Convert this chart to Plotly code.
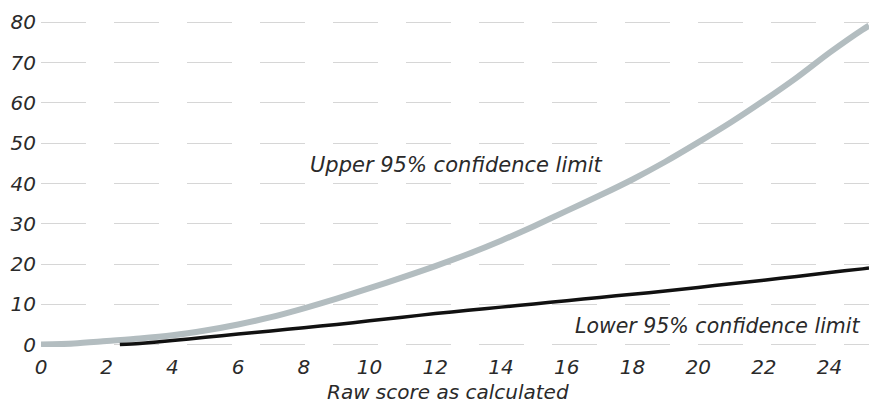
import plotly.graph_objects as go

# Raw score (x) and the two 95% confidence limits read along it
raw_score = [0, 1, 2, 3, 4, 5, 6, 7, 8, 9, 10, 11, 12, 13, 14, 15, 16, 17, 18,
             19, 20, 21, 22, 23, 24, 25, 25.2]
upper_95 = [0, 0.3, 0.9, 1.5, 2.3, 3.5, 5.0, 6.8, 9.0, 11.4, 14.0, 16.7, 19.5,
            22.5, 25.8, 29.4, 33.2, 37.0, 41.0, 45.4, 50.2, 55.2, 60.6, 66.3,
            72.5, 78.2, 79.2]

lower_x = [2.4, 3, 4, 5, 6, 7, 8, 9, 10, 11, 12, 13, 14, 15, 16, 17, 18, 19,
           20, 21, 22, 23, 24, 25, 25.2]
lower_95 = [0, 0.3, 1.0, 1.8, 2.6, 3.4, 4.2, 5.0, 5.9, 6.8, 7.7, 8.5, 9.3,
            10.1, 10.9, 11.7, 12.5, 13.3, 14.2, 15.1, 16.0, 16.9, 17.9, 18.8,
            19.0]

x_ticks = list(range(0, 25, 2))
y_ticks = list(range(0, 81, 10))

FONT = "DejaVu Sans"
TEXT = "#2a2a2a"

fig = go.Figure()
fig.add_trace(go.Scatter(x=raw_score, y=upper_95, mode="lines",
                         line=dict(color="#b3bdc0", width=6, shape="spline",
                                   smoothing=0.8),
                         hoverinfo="skip", showlegend=False))
fig.add_trace(go.Scatter(x=lower_x, y=lower_95, mode="lines",
                         line=dict(color="#111111", width=3.5, shape="spline",
                                   smoothing=0.8),
                         hoverinfo="skip", showlegend=False))

fig.add_annotation(x=12.65, y=44.5, text="Upper 95% confidence limit",
                   showarrow=False, xanchor="center", yanchor="middle",
                   font=dict(family=FONT, size=21, color=TEXT, style="italic"))
fig.add_annotation(x=25.0, y=4.6, text="Lower 95% confidence limit",
                   showarrow=False, xanchor="right", yanchor="middle",
                   font=dict(family=FONT, size=20.5, color=TEXT, style="italic"))
# x-axis title, placed below the tick labels
fig.add_annotation(xref="paper", yref="paper", x=0.4915, y=-0.137,
                   text="Raw score as calculated", showarrow=False,
                   xanchor="center", yanchor="middle",
                   font=dict(family=FONT, size=20, color=TEXT, style="italic"))

fig.update_layout(
    width=870, height=405,
    margin=dict(l=41, r=1, t=20, b=58),
    paper_bgcolor="white", plot_bgcolor="white",
    font=dict(family=FONT, size=20, color=TEXT, style="italic"),
    xaxis=dict(range=[0, 25.2], tickvals=x_ticks,
               ticktext=[str(v) for v in x_ticks],
               showgrid=False, zeroline=False, showline=False, ticks="",
               ticklabelstandoff=6,
               tickfont=dict(family=FONT, size=20, color=TEXT, style="italic")),
    yaxis=dict(range=[-0.6, 80.6], tickvals=y_ticks,
               ticktext=[str(v) for v in y_ticks],
               showgrid=True, gridcolor="#d6d6d6", gridwidth=1,
               griddash="45px,28px", zeroline=False, showline=False, ticks="",
               ticklabelstandoff=4,
               tickfont=dict(family=FONT, size=20, color=TEXT, style="italic")),
)

fig.write_html("out.html")
